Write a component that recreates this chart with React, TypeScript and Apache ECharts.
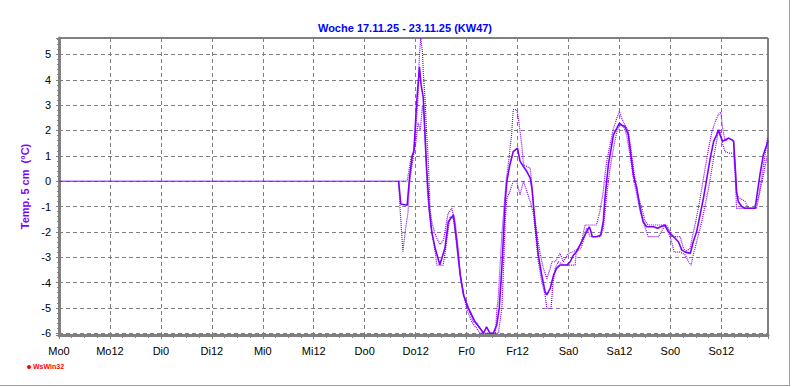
import React, { useEffect, useRef } from "react";
import * as echarts from "echarts";

const titleText = "Woche 17.11.25 - 23.11.25 (KW47)";
const yAxisName = "Temp. 5 cm  (°C)";
const dayLabels = ["Mo0", "Mo12", "Di0", "Di12", "Mi0", "Mi12", "Do0", "Do12", "Fr0", "Fr12", "Sa0", "Sa12", "So0", "So12"];

// period without readings (drawn as a flat line at 0)
const flatT: [number, number][] = [[0, 0], [80, 0]];

// [hour of week, °C]
const meanT: [number, number][] = [
  [80, 0], [80.5, -0.9], [82, -0.95], [82.6, 0.2], [83.2, 1.0], [83.6, 1.2], [84.2, 3.0], [84.9, 4.5],
  [85.3, 3.8], [85.8, 3.3], [86.6, 0.5], [87.2, -1.07], [87.8, -2.0], [88.6, -2.65], [89.7, -3.3], [90.9, -2.65],
  [91.7, -1.6], [92.9, -1.33], [93.7, -2.4], [94.5, -3.7], [95.3, -4.5], [96.4, -5.0], [98.0, -5.55], [99.2, -5.81],
  [100.0, -6.0], [100.7, -5.75], [101.5, -6.0], [102.3, -6.0], [103.1, -5.68], [103.7, -5.0], [104.3, -3.44],
  [104.7, -2.12], [105.1, -0.8], [105.5, 0], [106.2, 0.65], [107.0, 1.17], [108.0, 1.3], [108.6, 0.78], [109.4, 0.58],
  [110.2, 0.38], [111.0, 0.12], [111.4, -0.28], [112.1, -1.6], [112.9, -2.91], [113.7, -3.7], [114.5, -4.36],
  [114.9, -4.49], [115.7, -4.23], [116.5, -3.7], [117.2, -3.44], [118.0, -3.31], [119.6, -3.31], [120.4, -3.18],
  [121.2, -2.91], [121.9, -2.78], [122.7, -2.52], [123.5, -2.25], [124.3, -1.99], [124.9, -1.8], [125.3, -1.99],
  [125.6, -2.19], [126.6, -2.19], [127.6, -2.12], [128.2, -1.6], [128.6, -0.67], [129.0, 0], [129.4, 0.65],
  [129.8, 1.04], [130.6, 1.83], [131.4, 2.09], [132.0, 2.29], [132.5, 2.22], [133.3, 2.16], [134.1, 1.83],
  [134.5, 1.3], [135.3, 0.25], [136.1, -0.28], [136.9, -1.07], [137.6, -1.6], [138.4, -1.8], [140.0, -1.8],
  [141.0, -1.86], [141.7, -1.8], [142.7, -1.73], [143.5, -1.99], [144.3, -2.12], [145.1, -2.25], [145.9, -2.39],
  [146.7, -2.72], [147.5, -2.8], [148.7, -2.85], [149.4, -2.39], [150.2, -1.99], [151.0, -1.33], [151.8, -0.67],
  [152.6, 0.12], [153.4, 0.91], [154.2, 1.57], [154.9, 1.83], [155.3, 2.03], [155.7, 1.83], [156.3, 1.57],
  [156.9, 1.63], [157.7, 1.7], [158.5, 1.63], [158.9, 1.57], [159.3, 0.51], [159.6, -0.41], [160.0, -0.8],
  [160.8, -1.0], [161.6, -1.07], [164.0, -1.07], [164.3, -0.67], [165.1, 0.25], [165.9, 1.04], [166.7, 1.43], [167, 1.6],
];

const maxT: [number, number][] = [
  [80, 0], [82, 0], [82.9, 0.9], [83.5, 1.1], [84.0, 2.0], [84.5, 3.1], [84.9, 5.0], [85.2, 5.65],
  [85.6, 5.12], [85.8, 4.33], [86.2, 3.28], [86.6, 1.9], [87.0, 0.78], [87.4, -1.07], [87.8, -1.6], [88.4, -1.99],
  [89.0, -2.25], [89.8, -2.5], [90.6, -2.3], [91.6, -1.3], [92.5, -1.07], [93.3, -1.6], [94.1, -2.78], [94.5, -3.7],
  [95.3, -4.49], [96.4, -5.02], [97.6, -5.55], [98.4, -5.61], [99.2, -5.81], [100.0, -6.0], [102.8, -6.0],
  [103.1, -5.15], [103.5, -4.49], [104.3, -2.12], [104.8, -1.07], [105.3, 0], [105.9, 0.78], [106.6, 1.83],
  [107.0, 2.82], [107.8, 2.82], [108.2, 2.49], [109.0, 1.43], [109.4, 0.65], [110.2, 0.58], [111.0, 0.51],
  [111.4, -0.14], [111.8, -1.07], [112.6, -2.12], [113.4, -2.91], [114.1, -3.44], [114.9, -3.84], [115.7, -3.44],
  [116.1, -3.18], [116.9, -3.18], [118.0, -2.85], [118.8, -3.18], [120.0, -2.85], [121.2, -2.78], [122.3, -2.65],
  [123.1, -2.39], [123.9, -1.73], [126.6, -1.73], [127.4, -1.2], [128.2, -0.41], [128.6, 0.25], [129.0, 0.78],
  [129.8, 1.43], [130.6, 2.09], [131.4, 2.49], [132.0, 2.75], [132.5, 2.49], [133.3, 2.22], [134.1, 1.96],
  [134.9, 1.04], [135.7, 0], [136.5, -0.67], [137.3, -1.07], [138.1, -1.6], [138.8, -1.73], [143.1, -1.73],
  [143.9, -1.99], [144.3, -2.19], [146.3, -2.19], [147.1, -2.65], [147.5, -2.78], [148.7, -2.65], [149.1, -2.25],
  [149.8, -1.73], [150.6, -1.07], [151.4, -0.28], [152.2, 0.51], [153.0, 1.3], [153.8, 1.96], [154.6, 2.36],
  [155.3, 2.62], [155.9, 2.73], [156.3, 2.09], [156.9, 1.57], [157.7, 1.7], [158.5, 1.63], [158.9, 1.57],
  [159.3, 0.51], [159.6, -0.54], [160.4, -0.67], [161.6, -0.8], [162.4, -1.07], [163.6, -1.07], [164.7, -0.67],
  [165.5, 0.12], [166.3, 1.04], [166.9, 1.7],
];

const minT: [number, number][] = [
  [80, 0], [80.3, -1.0], [81.0, -2.78], [81.6, -1.92], [82.2, -1.25], [82.6, 0], [83.4, 0.91], [84.0, 1.5],
  [84.6, 2.3], [85.1, 2.0], [85.6, 3.0], [86.0, 2.5], [86.4, 0.9], [86.8, -0.5], [87.2, -1.2], [87.8, -2.0],
  [88.6, -2.8], [89.0, -3.31], [90.5, -3.31], [91.3, -2.4], [92.1, -1.4], [92.9, -1.46], [93.3, -1.99], [94.1, -3.2],
  [94.9, -4.1], [96.0, -5.02], [97.2, -5.55], [98.4, -5.81], [99.2, -6.0], [103.5, -6.0], [104.3, -5.02],
  [104.7, -3.44], [105.1, -1.46], [105.5, -0.67], [106.2, -0.41], [107.0, 0], [107.8, 0], [108.6, -0.54],
  [109.4, 0], [110.2, -0.41], [111.0, -0.8], [111.8, -1.33], [112.1, -1.86], [112.9, -3.18], [113.7, -3.97],
  [114.5, -4.49], [114.9, -5.02], [115.9, -5.02], [116.3, -4.1], [116.9, -3.44], [117.6, -3.18], [118.8, -3.31],
  [121.6, -3.31], [121.8, -2.78], [122.9, -2.65], [123.7, -2.25], [124.3, -1.86], [125.1, -2.19], [127.6, -2.19],
  [128.2, -1.86], [129.0, -0.54], [129.8, 0.51], [130.6, 1.3], [131.4, 1.96], [132.2, 2.22], [133.0, 2.16],
  [133.7, 1.83], [134.5, 1.04], [135.3, 0.12], [136.1, -0.54], [136.9, -1.2], [138.1, -1.86], [138.8, -2.19],
  [141.2, -2.19], [141.9, -1.99], [142.7, -1.73], [143.5, -1.99], [144.3, -2.39], [144.9, -2.8], [146.3, -2.8],
  [147.5, -2.91], [148.3, -3.18], [148.9, -3.31], [149.4, -2.91], [150.2, -2.39], [151.4, -1.6], [152.2, -0.94],
  [153.0, -0.28], [153.8, 0.51], [154.6, 1.3], [155.3, 1.96], [155.7, 2.03], [156.1, 1.57], [156.9, 1.17],
  [157.7, 1.11], [158.9, 1.11], [159.3, 0.12], [159.6, -1.07], [164.3, -1.07], [165.1, -0.41], [165.9, 0.25],
  [166.7, 0.91],
];

const PURPLE = "#8000ff";
const FONT = "'Liberation Sans', Arial, sans-serif";

export default function App() {
  const ref = useRef<HTMLDivElement>(null);

  useEffect(() => {
    if (!ref.current) return;
    const chart = echarts.init(ref.current, undefined, { renderer: "svg" });
    const dotted = { width: 1.2, color: PURPLE, type: [1, 1] as number[] };
    chart.setOption({
      animation: false,
      backgroundColor: "#ffffff",
      textStyle: { fontFamily: FONT },
      title: {
        text: titleText,
        left: 400,
        top: 17,
        textAlign: "center",
        textStyle: { color: "#0000ff", fontSize: 11, fontWeight: "bold", fontFamily: FONT },
      },
      grid: {
        left: 59,
        right: 24,
        top: 38,
        bottom: 52,
        show: true,
        borderColor: "#000000",
        borderWidth: 1,
        backgroundColor: "transparent",
      },
      xAxis: {
        type: "value",
        min: 0,
        max: 167,
        interval: 12,
        axisLine: { show: true, onZero: false, lineStyle: { color: "#808080", width: 3 } },
        axisTick: { show: true, length: 4, lineStyle: { color: "#808080", width: 1 } },
        minorTick: { show: true, splitNumber: 4, length: 3, lineStyle: { color: "#808080", width: 1 } },
        splitLine: { show: true, lineStyle: { color: "#808080", type: [4, 3], width: 1 } },
        axisLabel: {
          color: "#000000",
          fontSize: 11,
          fontFamily: FONT,
          margin: 10,
          showMaxLabel: false,
          formatter: (v: number) => dayLabels[Math.round(v / 12)] ?? "",
        },
      },
      yAxis: {
        type: "value",
        min: -6.07,
        max: 5.65,
        splitNumber: 12,
        name: yAxisName,
        nameLocation: "middle",
        nameGap: 27,
        nameRotate: 90,
        nameTextStyle: { color: PURPLE, fontSize: 11, fontWeight: "bold", fontFamily: FONT },
        axisLine: { show: true, onZero: false, lineStyle: { color: "#808080", width: 3 } },
        axisTick: { show: true, length: 3, inside: false, lineStyle: { color: "#808080", width: 1 } },
        minorTick: { show: true, splitNumber: 5, length: 2, lineStyle: { color: "#808080", width: 1 } },
        splitLine: { show: true, lineStyle: { color: "#808080", type: [4, 3], width: 1 } },
        axisLabel: {
          color: "#000000",
          fontSize: 11,
          fontFamily: FONT,
          margin: 8,
          showMinLabel: false,
          showMaxLabel: false,
          formatter: (v: number) => (Math.abs(v - Math.round(v)) < 1e-6 ? String(Math.round(v)) : ""),
        },
      },
      series: [
        {
          type: "line",
          data: flatT,
          showSymbol: false,
          lineStyle: { width: 1, color: PURPLE },
          z: 3,
        },
        {
          type: "line",
          data: meanT,
          showSymbol: false,
          lineStyle: { width: 1.6, color: PURPLE },
          z: 3,
        },
        {
          type: "line",
          data: maxT,
          showSymbol: false,
          lineStyle: dotted,
          z: 4,
        },
        {
          type: "line",
          data: minT,
          showSymbol: false,
          lineStyle: dotted,
          z: 4,
        },
      ],
      graphic: [
        { type: "circle", shape: { cx: 29, cy: 367, r: 2 }, style: { fill: "#ff0000" } },
        {
          type: "text",
          x: 33,
          y: 363,
          style: { text: "WsWin32", fill: "#ff0000", fontSize: 7, fontWeight: "bold", fontFamily: FONT },
        },
        { type: "line", shape: { x1: 789.5, y1: 0, x2: 789.5, y2: 386 }, style: { stroke: "#a0a0a0", lineWidth: 1 } },
        { type: "line", shape: { x1: 0, y1: 385.5, x2: 790, y2: 385.5 }, style: { stroke: "#a0a0a0", lineWidth: 1 } },
      ],
    });
    return () => chart.dispose();
  }, []);

  return (
    <div
      ref={ref}
      style={{ position: "absolute", left: 0, top: 0, width: 792, height: 387 }}
    />
  );
}
